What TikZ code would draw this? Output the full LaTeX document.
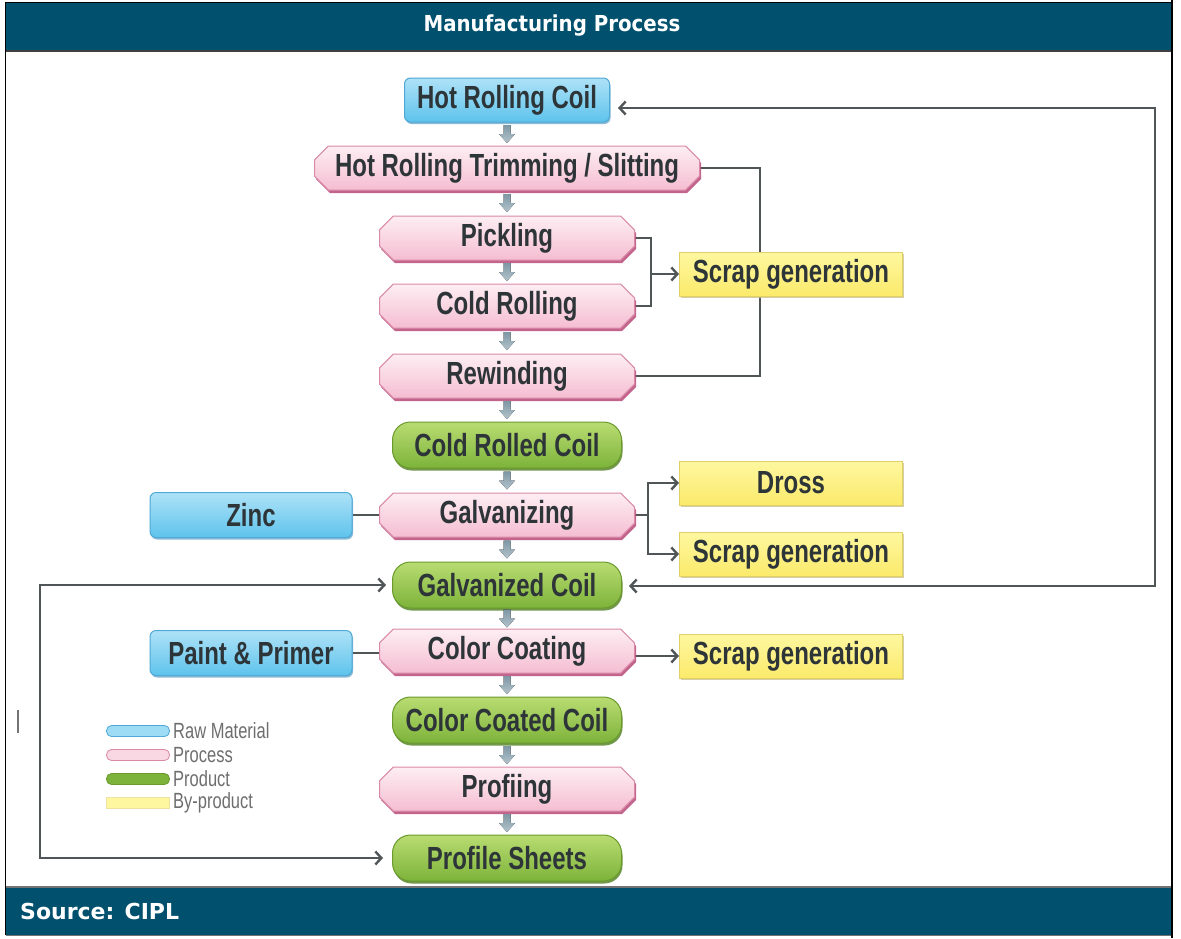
\documentclass[tikz,border=0pt]{standalone}
\usepackage{fontspec}
\usetikzlibrary{shapes.misc,shadows,arrows.meta,calc}
\newfontfamily\nodefont{Liberation Sans}[FakeStretch=0.75]
\newfontfamily\hdrfont{DejaVu Sans}
\newfontfamily\titlefont{DejaVu Sans}[FakeStretch=0.9]
\definecolor{hdr}{HTML}{00506E}
\definecolor{txt}{HTML}{2E3538}
\definecolor{rawtop}{HTML}{AEE2F7}
\definecolor{rawbot}{HTML}{5EC3EC}
\definecolor{rawedge}{HTML}{4FA9D6}
\definecolor{rawsh}{HTML}{3F8DB8}
\definecolor{proctop}{HTML}{FDEEF3}
\definecolor{procbot}{HTML}{F5BDD1}
\definecolor{procedge}{HTML}{D98AA8}
\definecolor{procsh}{HTML}{B94A78}
\definecolor{prodtop}{HTML}{B9DC72}
\definecolor{prodbot}{HTML}{7DB33A}
\definecolor{prodedge}{HTML}{6A9A2E}
\definecolor{prodsh}{HTML}{4F7F1F}
\definecolor{bytop}{HTML}{FEF7A0}
\definecolor{bybot}{HTML}{FBEA6B}
\definecolor{byedge}{HTML}{E2CF66}
\definecolor{bysh}{HTML}{C9C28C}
\definecolor{linegray}{HTML}{505558}
\definecolor{arrtop}{HTML}{7F98A5}
\definecolor{arrbot}{HTML}{B3C4CC}
\definecolor{legtxt}{HTML}{6E6E6E}
\pgfdeclarelayer{frame}
\pgfdeclarelayer{lines}
\pgfsetlayers{frame,lines,main}
\tikzset{
  box/.style={font=\nodefont\bfseries\fontsize{32}{34}\selectfont, text=txt, inner sep=0pt, align=center, line width=1pt},
  raw/.style={box, rectangle, rounded corners=6pt, draw=rawedge, top color=rawtop, bottom color=rawbot,
    drop shadow={shadow xshift=1pt, shadow yshift=-2pt, fill=rawsh, opacity=0.6}},
  proc/.style={box, chamfered rectangle, chamfered rectangle xsep=11pt, draw=procedge, top color=proctop, bottom color=procbot,
    drop shadow={shadow xshift=1.5pt, shadow yshift=-3pt, fill=procsh, opacity=0.85}},
  prod/.style={box, rectangle, rounded corners=18pt, draw=prodedge, top color=prodtop, bottom color=prodbot,
    drop shadow={shadow xshift=1pt, shadow yshift=-2.5pt, fill=prodsh, opacity=0.8}},
  byp/.style={box, rectangle, draw=byedge, top color=bytop, bottom color=bybot, minimum width=223pt, minimum height=44pt,
    drop shadow={shadow xshift=1.5pt, shadow yshift=-2pt, fill=bysh, opacity=0.8}},
  procw/.style={proc, minimum width=255pt, minimum height=44pt},
  prodw/.style={prod, minimum width=229pt, minimum height=46pt},
  raww/.style={raw, minimum width=202pt, minimum height=45pt},
  conn/.style={draw=linegray, line width=2.4pt},
  arr/.style={conn, -{Straight Barb[length=6pt,width=13pt]}},
  twoarr/.style={conn, {Straight Barb[length=6pt,width=13pt]}-{Straight Barb[length=6pt,width=13pt]}},
  legsw/.style={rectangle, rounded corners=5pt, minimum width=63pt, minimum height=11pt, inner sep=0pt, line width=0.8pt},
  legtext/.style={font=\nodefont\fontsize{22}{24}\selectfont, text=legtxt, inner sep=0pt, anchor=west},
  dnarrow/.pic={\fill[top color=arrtop, bottom color=arrbot] (-3.5,-9) -- (3.5,-9) -- (3.5,0) -- (8,0) -- (0,9) -- (-8,0) -- (-3.5,0) -- cycle;}
}
\begin{document}
\begin{tikzpicture}[x=1pt,y=-1pt]
\useasboundingbox (0,0) rectangle (1181,938);
% frame
\begin{pgfonlayer}{frame}
\fill[white] (0,0) rectangle (1181,938);
\fill[hdr] (5,2) rectangle (1172,50);
\draw[black, line width=1pt] (5,2) -- (1172,2);
\draw[black!75, line width=2pt] (5,51) -- (1172,51);
\fill[hdr] (6,887) rectangle (1172,935);
\draw[black!55, line width=1.5pt] (6,887) -- (1172,887);
\draw[black!55, line width=1.5pt] (6,935.5) -- (1172,935.5);
\draw[black, line width=1pt] (5,2) -- (5,935);
\draw[black, line width=2.2pt] (1172,0) -- (1172,938);
\draw[black!55, line width=1.5pt] (18,710) -- (18,733);
\end{pgfonlayer}
\node[font=\titlefont\bfseries\fontsize{22}{24}\selectfont, text=white, inner sep=0pt] (title) at (552,26) {Manufacturing Process};
\node[font=\hdrfont\bfseries\fontsize{22}{24}\selectfont, text=white, inner sep=0pt, anchor=west] (source) at (20,911) {Source: CIPL};
% main column
\node[raw, minimum width=205pt, minimum height=44pt] (hrc) at (507,100) {Hot Rolling Coil};
\node[proc, minimum width=385pt, minimum height=44pt] (hrts) at (507,168) {Hot Rolling Trimming / Slitting};
\node[procw] (pick) at (507,238) {Pickling};
\node[procw] (cold) at (507,306) {Cold Rolling};
\node[procw] (rew) at (507,376) {Rewinding};
\node[prodw] (crc) at (507,445) {Cold Rolled Coil};
\node[procw] (galv) at (507,515) {Galvanizing};
\node[prodw] (gc) at (507,585) {Galvanized Coil};
\node[procw] (cc) at (507,651) {Color Coating};
\node[prodw] (ccc) at (507,720) {Color Coated Coil};
\node[procw] (prof) at (507,789) {Profiing};
\node[prodw] (ps) at (507,858) {Profile Sheets};
% side nodes
\node[raww] (zinc) at (251,515) {Zinc};
\node[raww] (paint) at (251,653) {Paint \& Primer};
\node[byp] (scrap1) at (791,274) {Scrap generation};
\node[byp] (dross) at (791,483) {Dross};
\node[byp] (scrap2) at (791,554) {Scrap generation};
\node[byp] (scrap3) at (791,656) {Scrap generation};
% flow arrows
\pic at ($(hrc.south)!0.5!(hrts.north)$) {dnarrow};
\pic at ($(hrts.south)!0.5!(pick.north)$) {dnarrow};
\pic at ($(pick.south)!0.5!(cold.north)$) {dnarrow};
\pic at ($(cold.south)!0.5!(rew.north)$) {dnarrow};
\pic at ($(rew.south)!0.5!(crc.north)$) {dnarrow};
\pic at ($(crc.south)!0.5!(galv.north)$) {dnarrow};
\pic at ($(galv.south)!0.5!(gc.north)$) {dnarrow};
\pic at ($(gc.south)!0.5!(cc.north)$) {dnarrow};
\pic at ($(cc.south)!0.5!(ccc.north)$) {dnarrow};
\pic at ($(ccc.south)!0.5!(prof.north)$) {dnarrow};
\pic at ($(prof.south)!0.5!(ps.north)$) {dnarrow};
% legend
\node[legsw, draw=rawedge, fill=rawbot!60] (lraw) at (138,731) {};
\node[legsw, draw=procedge, fill=procbot!60] (lproc) at (138,755) {};
\node[legsw, draw=prodedge, fill=prodbot] (lprod) at (138,779) {};
\node[legsw, rounded corners=0pt, draw=byedge!60, fill=bytop] (lby) at (138,803) {};
\node[legtext] (lrawt) at (173,731) {Raw Material};
\node[legtext] (lproct) at (173,755) {Process};
\node[legtext] (lprodt) at (173,779) {Product};
\node[legtext] (lbyt) at (173,803) {By-product};
% connectors
\coordinate (jv) at (760,274);
\coordinate (px) at (651,274);
\coordinate (gx) at (648,515);
\coordinate (rx) at (1155,0);
\coordinate (lx) at (40,0);
\coordinate (hrcin) at ($(hrc.east)+(8,8)$);
\coordinate (gcin) at ($(gc.east)+(7,1)$);
\coordinate (gcinl) at ($(gc.west)+(-6,0)$);
\coordinate (psin) at ($(ps.west)+(-9,0)$);
\begin{pgfonlayer}{lines}
\draw[conn] (hrts.east) -- (hrts.east -| jv) -- (rew.east -| jv) -- (rew.east);
\draw[conn] (pick.east) -- (pick.east -| px) -- (cold.east -| px) -- (cold.east);
\draw[arr] (px) -- (scrap1.west);
\draw[conn] (galv.east) -- (gx);
\draw[arr] (gx) |- (dross.west);
\draw[arr] (gx) |- (scrap2.west);
\draw[conn] (zinc.east) -- (galv.west);
\draw[conn] (paint.east) -- (paint.east -| cc.west);
\draw[arr] (cc.east |- scrap3) -- (scrap3.west);
\draw[twoarr] (hrcin) -- (rx |- hrcin) -- (rx |- gcin) -- (gcin);
\draw[twoarr] (gcinl) -- (lx |- gcinl) -- (lx |- psin) -- (psin);
\end{pgfonlayer}
\end{tikzpicture}
\end{document}
